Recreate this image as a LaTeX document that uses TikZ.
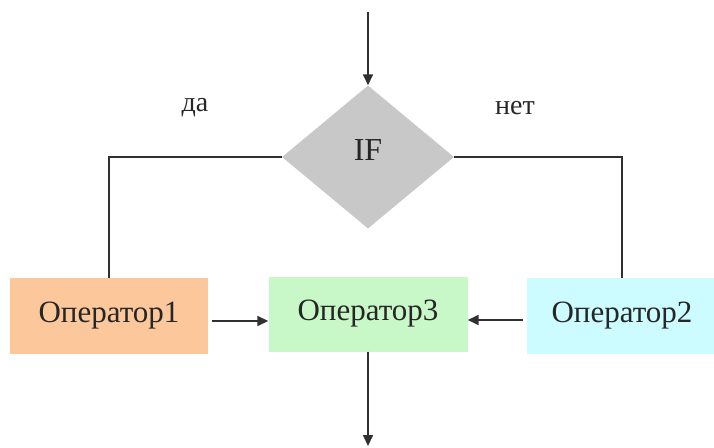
\documentclass[tikz,border=0pt]{standalone}
\usepackage{fontspec}
\setmainfont{Liberation Serif}
\newfontfamily\tmsfont{Liberation Serif}
\usetikzlibrary{shapes.geometric,arrows.meta}
\definecolor{peach}{HTML}{FCC89B}
\definecolor{mint}{HTML}{C8F7C8}
\definecolor{icecyan}{HTML}{CCFCFF}
\definecolor{decgray}{HTML}{C8C8C8}
\definecolor{linecol}{HTML}{303030}
\tikzset{
  opbox/.style={rectangle, draw=none, inner sep=0pt, font=\tmsfont\fontsize{31}{34}\selectfont, text=black!85},
  conn/.style={line width=1.6pt, draw=linecol},
  arr/.style={conn, -{Triangle[length=11pt,width=10pt]}},
  lbl/.style={font=\tmsfont\fontsize{28}{30}\selectfont, text=black!85}
}
\begin{document}
\begin{tikzpicture}[x=1pt,y=-1pt]
\useasboundingbox (0,0) rectangle (714,447);
\node[diamond, fill=decgray, minimum width=172pt, minimum height=143pt, inner sep=0pt, aspect=1.2] (ifn) at (368,157) {};
\node[font=\tmsfont\fontsize{32}{34}\selectfont, text=black!85] (iftxt) at (368,150) {IF};
\node[opbox, fill=peach, minimum width=198pt, minimum height=76pt] (op1) at (109,316) {Оператор1};
\node[opbox, fill=mint, minimum width=199pt, minimum height=75pt] (op3) at (368,314) {Оператор3};
\node[opbox, fill=icecyan, minimum width=190pt, minimum height=76pt] (op2) at (622,316) {Оператор2};
\node[lbl] (da) at (195,108) {да};
\node[lbl] (net) at (515,108) {нет};
\coordinate (top) at (368,12);
\coordinate (bot) at (368,446);
\draw[arr] (top) -- (ifn.north);
\draw[conn] (ifn.west) -| (op1.north);
\draw[conn] (ifn.east) -| (op2.north);
\draw[arr] ([xshift=4pt]op1.east |- 0,321) -- (op3.west |- 0,321);
\draw[arr] ([xshift=-4pt]op2.west |- 0,320) -- (op3.east |- 0,320);
\draw[arr] (op3.south) -- (bot);
\end{tikzpicture}
\end{document}
